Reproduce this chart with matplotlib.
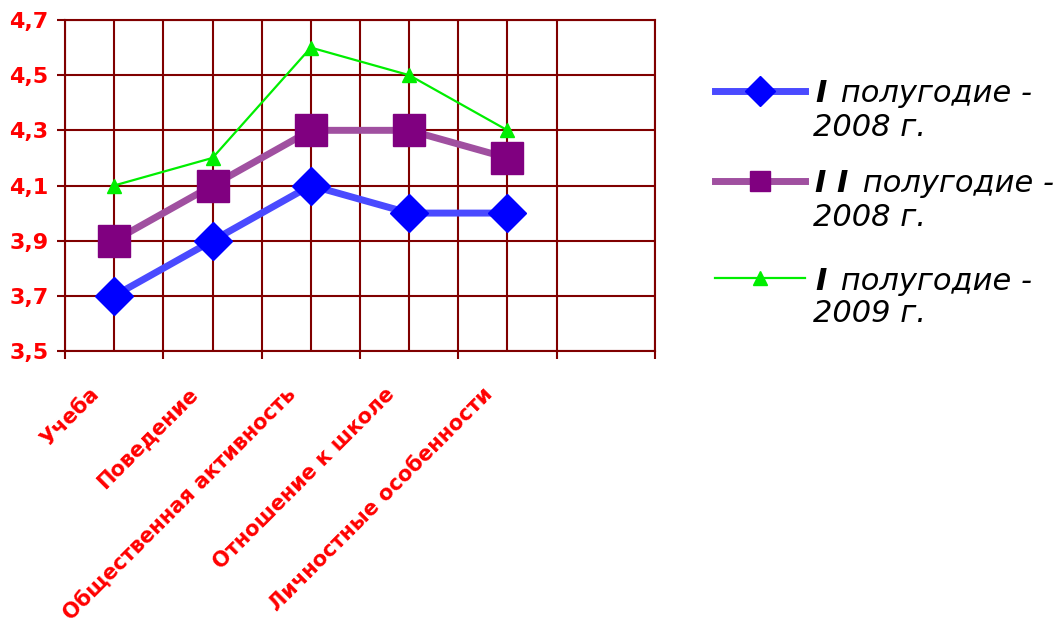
import numpy as np
import matplotlib
matplotlib.use("Agg")
from matplotlib import pyplot as plt
from matplotlib.lines import Line2D
from matplotlib.transforms import ScaledTranslation

categories = ["Учеба", "Поведение", "Общественная активность",
              "Отношение к школе", "Личностные особенности"]
half1_2008 = [3.7, 3.9, 4.1, 4.0, 4.0]
half2_2008 = [3.9, 4.1, 4.3, 4.3, 4.2]
half1_2009 = [4.1, 4.2, 4.6, 4.5, 4.3]
series_roman = ["I", "I I", "I"]
series_first = [" полугодие -", " полугодие -", " полугодие -"]
series_second = ["2008 г.", "2008 г.", "2009 г."]
y_ticks = [3.5, 3.7, 3.9, 4.1, 4.3, 4.5, 4.7]

grid_col = "#800000"
plt.rcParams['font.family'] = ['DejaVu Sans']

W, H = 1058, 628
fig = plt.figure(figsize=(W / 100, H / 100), dpi=100)
ax = fig.add_axes([65 / W, 1 - 351 / H, 590 / W, 331 / H])

x = np.arange(1, len(categories) + 1)

# series styles: (data, line colour, marker colour, marker, lw, ms, legend ms)
styles = [
    (half1_2008, "#4a4aff", "#0000ff", "D", 5, 19, 15),
    (half2_2008, "#a050a0", "#800080", "s", 5, 23, 15),
    (half1_2009, "#00ee00", "#00ee00", "^", 1.6, 10, 10),
]
handles = []
for data, lc, mc, mk, lw, ms, lms in styles:
    h, = ax.plot(x, data, color=lc, lw=lw, marker=mk, ms=ms,
                 markerfacecolor=mc, markeredgecolor=mc, zorder=3)
    handles.append((h, lms))

ax.set_xlim(0.5, 6.5)
ax.set_ylim(3.5, 4.7)

# category boundaries as major ticks, centres as minor (labelled)
ax.set_xticks(np.arange(0.5, 7.0, 1.0))
ax.set_xticklabels([])
ax.set_xticks(x, minor=True)
ax.set_xticklabels(categories, minor=True, rotation=45, ha="right",
                   va="center", rotation_mode="anchor", color="red",
                   fontweight="bold", fontsize=15)
ax.tick_params(axis="x", which="minor", length=0, pad=29)
ax.tick_params(axis="x", which="major", length=6, width=1.5, color=grid_col)
shift = ScaledTranslation(-18 / 100, 0, fig.dpi_scale_trans)
for lab in ax.get_xticklabels(minor=True):
    lab.set_transform(lab.get_transform() + shift)

ax.set_yticks(y_ticks)
ax.set_yticklabels([f"{v:.1f}".replace(".", ",") for v in y_ticks],
                   color="red", fontweight="bold", fontsize=16)
ax.tick_params(axis="y", length=6, width=1.5, color=grid_col, pad=6)

ax.grid(True, which="both", axis="x", color=grid_col, lw=1.5)
ax.grid(True, which="major", axis="y", color=grid_col, lw=1.5)
ax.set_axisbelow(True)
for sp in ax.spines.values():
    sp.set_color(grid_col)
    sp.set_linewidth(1.5)

# legend drawn by hand so the roman numerals can be bold
leg_y = [91, 181, 278]
fig.canvas.draw()
for (h, lms), roman, first, second, yy in zip(handles, series_roman,
                                              series_first, series_second, leg_y):
    fy = 1 - yy / H
    ln = Line2D([715 / W, 805 / W], [fy, fy], transform=fig.transFigure,
                color=h.get_color(), lw=h.get_linewidth())
    fig.add_artist(ln)
    mk = Line2D([760 / W], [fy], transform=fig.transFigure,
                marker=h.get_marker(), ms=lms,
                markerfacecolor=h.get_markerfacecolor(),
                markeredgecolor=h.get_markeredgecolor(), lw=0)
    fig.add_artist(mk)
    ty = 1 - (yy + 3) / H
    t = fig.text(815 / W, ty, roman, fontsize=22, fontweight="bold",
                 style="italic", va="center", ha="left")
    bb = t.get_window_extent(renderer=fig.canvas.get_renderer())
    fig.text((bb.x1 + 5) / W, ty, first, fontsize=22, style="italic",
             va="center", ha="left")
    fig.text(813 / W, ty - 33 / H, second, fontsize=22, style="italic",
             va="center", ha="left")

fig.savefig("out.png", dpi=100)
